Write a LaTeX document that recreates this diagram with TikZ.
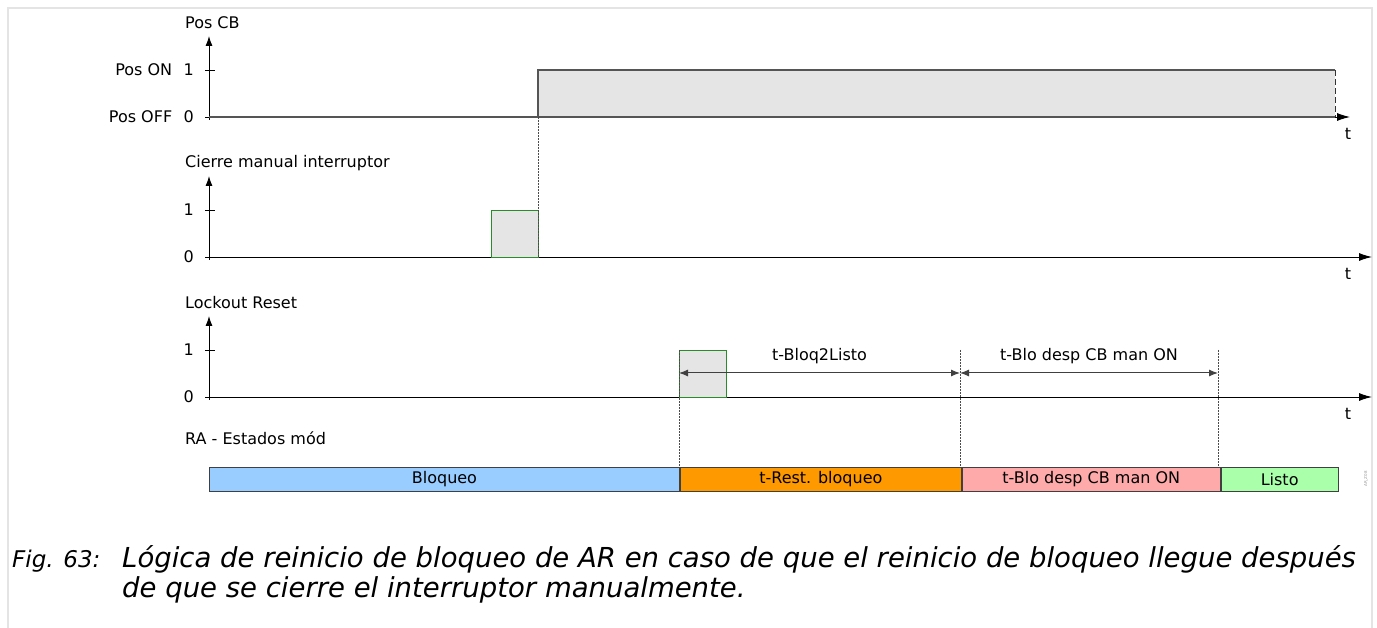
\documentclass[tikz,border=0pt]{standalone}
\usepackage{fontspec}
\setmainfont{DejaVu Sans}
\usetikzlibrary{arrows.meta,positioning,calc}
\definecolor{sigfill}{RGB}{229,229,229}
\definecolor{sigline}{RGB}{85,85,85}
\definecolor{pulseline}{RGB}{40,140,40}
\definecolor{stblue}{RGB}{153,204,255}
\definecolor{storange}{RGB}{255,153,0}
\definecolor{stpink}{RGB}{255,170,170}
\definecolor{stgreen}{RGB}{170,255,170}
\definecolor{framegray}{RGB}{228,228,228}

\begin{document}
\begin{tikzpicture}[
    x=1pt, y=-1pt,
    lbl/.style={font=\fontsize{16}{18}\selectfont, inner sep=0pt},
    axis/.style={-{Latex[length=10pt,width=7pt]}, line width=0.9pt},
    taxis/.style={-{Latex[length=13pt,width=8pt]}, line width=0.9pt},
    signal/.style={draw=sigline, fill=sigfill, line width=1pt},
    pulse/.style={draw=pulseline, fill=sigfill, line width=0.9pt},
    guide/.style={draw=black!70, line width=0.5pt, dash pattern=on 2pt off 1pt},
    dim/.style={{Latex[length=9pt,width=7pt]}-{Latex[length=9pt,width=7pt]}, line width=1pt, draw=black!75},
    state/.style={draw=black!75, line width=0.9pt, minimum height=24pt, inner sep=0pt, font=\fontsize{16}{18}\selectfont},
    capt/.style={anchor=base west, inner sep=0pt, font=\fontsize{27.5}{30}\selectfont\itshape}
]
    \useasboundingbox (0,0) rectangle (1377,628);

    % Frame
    \draw[framegray, line width=2pt] (8,628) -- (8,8) -- (1372,8) -- (1372,628);

    % Axes of the three signals
    \foreach \name/\yb/\xe/\title in {poscb/117/1350/Pos CB, manual/257/1372/Cierre manual interruptor, reset/397/1372/Lockout Reset}{
        \coordinate (\name_o) at (209,\yb);
        \coordinate (\name_top) at (209,\yb-81);
        \coordinate (\name_end) at (\xe,\yb);
        \draw[axis] (209,\yb+3) -- (\name_top);
        \draw[taxis] (\name_o) -- (\name_end);
        \draw[line width=0.9pt] (205,\yb) -- (215,\yb);
        \draw[line width=0.9pt] (205,\yb-47) -- (215,\yb-47);
        \node[lbl, anchor=east] (\name_one) at (194,\yb-47) {1};
        \node[lbl, anchor=east] (\name_zero) at (194,\yb) {0};
        \node[lbl, anchor=west] (\name_title) at (185,\yb-94) {\title};
        \node[lbl] (\name_t) at (1348,\yb+17) {t};
    }
    \node[lbl, anchor=east, left=11pt of poscb_one] (pos_on) {Pos ON};
    \node[lbl, anchor=east, left=11pt of poscb_zero] (pos_off) {Pos OFF};

    % Pos CB
    \fill[sigfill] (538,70) rectangle (1335,117);
    \draw[sigline, line width=1.2pt] (209,117) -- (1335,117);
    \draw[sigline, line width=1.2pt] (538,117) -- (538,70) -- (1335,70);
    \draw[black!80, line width=1pt, dash pattern=on 6pt off 3pt] (1335,70) -- (1335,117);

    % Cierre manual interruptor
    \draw[pulse] (491,257) rectangle (538,210);
    \draw[guide] (538,117) -- (538,257);

    % Lockout Reset
    \draw[pulse] (679,397) rectangle (726,350);
    \coordinate (g1) at (679,350);
    \coordinate (g2) at (960,350);
    \coordinate (g3) at (1218,350);
    \coordinate (b1) at (679,467);
    \coordinate (b2) at (960,467);
    \coordinate (b3) at (1218,467);
    \draw[guide] (g1) -- (b1);
    \draw[guide] (g2) -- (b2);
    \draw[guide] (g3) -- (b3);
    \coordinate (d1) at (679,373);
    \coordinate (d2) at (960,373);
    \coordinate (d3) at (1218,373);
    \draw[dim] (d1) -- node[lbl, above=9pt] (bloq2listo) {t-Bloq2Listo} (d2);
    \draw[dim] (d2) -- node[lbl, above=9pt] (blodesp) {t-Blo desp CB man ON} (d3);

    % RA - Estados mod
    \node[lbl, anchor=west] (ra_title) at (185,438) {RA - Estados mód};
    \node[state, fill=stblue, minimum width=470pt, anchor=north west] (st_bloq) at (209,467) {Bloqueo};
    \node[state, fill=storange, minimum width=281pt, anchor=north west] (st_rest) at (st_bloq.north east) {t-Rest. bloqueo};
    \node[state, fill=stpink, minimum width=258pt, anchor=north west] (st_blo) at (st_rest.north east) {t-Blo desp CB man ON};
    \node[state, fill=stgreen, minimum width=117pt, anchor=north west] (st_listo) at (st_blo.north east) {Listo};
    \node[rotate=90, font=\fontsize{4}{5}\selectfont, text=black!40, inner sep=0pt] (tag) at (1366,479) {AR\_Z08};

    % Caption
    \node[capt, font=\fontsize{23}{30}\selectfont\itshape] (fig) at (12,567) {Fig. 63:};
    \node[capt] (cap1) at (122,567) {Lógica de reinicio de bloqueo de AR en caso de que el reinicio de bloqueo llegue después};
    \node[capt] (cap2) at (122,597) {de que se cierre el interruptor manualmente.};
\end{tikzpicture}
\end{document}
